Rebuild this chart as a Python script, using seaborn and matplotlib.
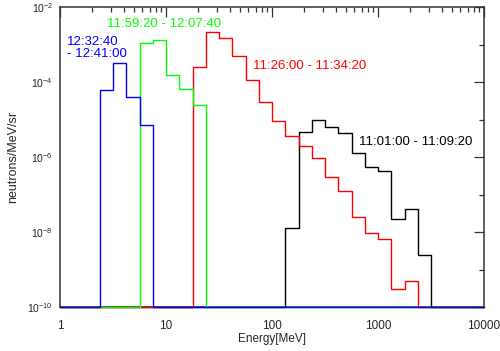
import numpy as np
import pandas as pd
import seaborn as sns
import matplotlib.pyplot as plt
from matplotlib.ticker import FixedLocator, LogLocator, NullFormatter

# energy bins: 8 per decade from 1 to 10000 MeV
energy_edges = np.logspace(0, 4, 33)

intervals = ['11:01:00 - 11:09:20', '11:26:00 - 11:34:20',
             '11:59:20 - 12:07:40', '12:32:40 - 12:41:00']
colors = ['black', '#ff0000', '#00ff00', '#0000ff']

# first non-zero bin index and flux per bin (neutrons/MeV/sr)
start_bins = [17, 10, 6, 3]
black_flux = [1.26e-8, 4.6e-6, 9.7e-6, 6.4e-6, 4.5e-6, 1.3e-6, 5.5e-7, 4.3e-7,
              2.2e-8, 4.2e-8, 2.4e-9]
red_flux = [2.47e-4, 2.1e-3, 1.46e-3, 4.9e-4, 1.1e-4, 3.0e-5, 9.3e-6, 3.6e-6,
            1.96e-6, 9.3e-7, 2.9e-7, 1.27e-7, 2.6e-8, 9.6e-9, 6.4e-9, 3.0e-10, 5.0e-10]
green_flux = [1.12e-3, 1.29e-3, 1.5e-4, 6.7e-5, 2.4e-5]
blue_flux = [6.1e-5, 3.2e-4, 4.1e-5, 7.1e-6]
floor = 1e-10

rows = []
for name, start, flux in zip(intervals, start_bins, [black_flux, red_flux, green_flux, blue_flux]):
    vals = np.full(len(energy_edges) - 1, floor)
    vals[start:start + len(flux)] = flux
    vals = np.append(vals, vals[-1])
    for e, v in zip(energy_edges, vals):
        rows.append({'energy': e, 'flux': v, 'interval': name})
df = pd.DataFrame(rows)

sns.set_theme(style='white')
plt.rcParams['font.family'] = ['Liberation Sans', 'DejaVu Sans']

fig = plt.figure(figsize=(5, 3.51), dpi=100)
ax = fig.add_axes([0.12, 0.125, 0.848, 0.855])

sns.lineplot(data=df, x='energy', y='flux', hue='interval', hue_order=intervals,
             palette=colors, drawstyle='steps-post', estimator=None, sort=False,
             legend=False, linewidth=1.0, ax=ax, clip_on=False, zorder=3)

ax.set_xscale('log')
ax.set_yscale('log')
ax.set_xlim(1, 10000)
ax.set_ylim(1e-10, 1e-2)

ax.xaxis.set_major_locator(FixedLocator([1, 10, 100, 1000, 10000]))
ax.xaxis.set_minor_locator(LogLocator(base=10, subs=np.arange(2, 10), numticks=20))
ax.xaxis.set_minor_formatter(NullFormatter())
ax.set_xticklabels(['1', '10', '100', '1000', '10000'])

yt = [1e-10, 1e-8, 1e-6, 1e-4, 1e-2]
ax.yaxis.set_major_locator(FixedLocator(yt))
ax.yaxis.set_minor_locator(FixedLocator([1e-9, 1e-7, 1e-5, 1e-3]))
ax.yaxis.set_minor_formatter(NullFormatter())
ax.set_yticklabels([r'$\mathregular{10^{%d}}$' % p for p in [-10, -8, -6, -4, -2]])

ax.tick_params(which='both', direction='in', top=True, right=True,
               color='#333333', width=0.9)
ax.tick_params(which='major', length=7)
ax.tick_params(which='minor', length=3.5)
ax.tick_params(axis='x', pad=9, labelsize=8.5)
ax.tick_params(axis='y', pad=5, labelsize=7.5)
for sp in ax.spines.values():
    sp.set_color('#333333')
    sp.set_linewidth(1.1)

ax.set_xlabel('Energy[MeV]', fontsize=8.5)
ax.set_ylabel('neutrons/MeV/sr', fontsize=9)
ax.xaxis.set_label_coords(0.5, -0.087)
ax.yaxis.set_label_coords(-0.097, 0.5)

fs = 9.5
ax.text(1.157, 8.0e-4, '12:32:40\n- 12:41:00', color='#0000ff', fontsize=fs,
        ha='left', va='center', linespacing=0.95)
ax.text(2.76, 3.6e-3, '11:59:20 - 12:07:40', color='#00ff00', fontsize=fs, ha='left', va='center')
ax.text(65.6, 2.6e-4, '11:26:00 - 11:34:20', color='#ff0000', fontsize=fs, ha='left', va='center')
ax.text(666, 2.6e-6, '11:01:00 - 11:09:20', color='black', fontsize=fs, ha='left', va='center')

fig.savefig('out.png', dpi=100)
